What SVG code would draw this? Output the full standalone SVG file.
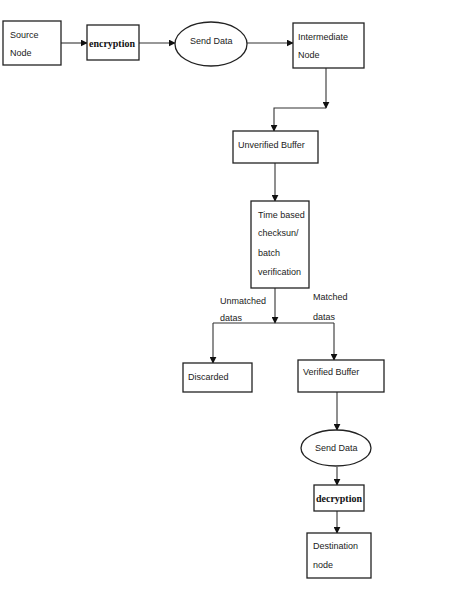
<svg xmlns="http://www.w3.org/2000/svg" width="471" height="589" viewBox="0 0 471 589">
<style>
.box{fill:#fff;stroke:#222;stroke-width:1.3}
.t{font-family:"Liberation Sans",Arial,sans-serif;font-size:9px;fill:#222}
.b{font-family:"Liberation Serif","Times New Roman",serif;font-size:10px;font-weight:bold;fill:#111}
.c{fill:none;stroke:#333;stroke-width:1.1}
</style>
<defs>
<marker id="ah" viewBox="0 0 10 10" refX="9" refY="5" markerWidth="7" markerHeight="7" orient="auto" markerUnits="userSpaceOnUse">
<path d="M0,0 L10,5 L0,10 z" fill="#111"/>
</marker>
</defs>
<rect width="471" height="589" fill="#fff"/>
<g id="connectors">
<path class="c" d="M61,43 H87" marker-end="url(#ah)"/>
<path class="c" d="M139,43 H175" marker-end="url(#ah)"/>
<path class="c" d="M247,43 H293" marker-end="url(#ah)"/>
<path class="c" d="M326,68 V108" marker-end="url(#ah)"/>
<path class="c" d="M326,108 H274 V131" marker-end="url(#ah)"/>
<path class="c" d="M275,163 V201" marker-end="url(#ah)"/>
<path class="c" d="M275,288 V323" marker-end="url(#ah)"/>
<path class="c" d="M213,323 H334"/>
<path class="c" d="M213,323 V363" marker-end="url(#ah)"/>
<path class="c" d="M334,323 V360" marker-end="url(#ah)"/>
<path class="c" d="M337,392 V430" marker-end="url(#ah)"/>
<path class="c" d="M337,467 V485" marker-end="url(#ah)"/>
<path class="c" d="M337,511 V533" marker-end="url(#ah)"/>
</g>
<g id="source">
<rect class="box" x="3" y="21" width="58" height="44"/>
<text class="t" x="10" y="38">Source</text>
<text class="t" x="10" y="56">Node</text>
</g>
<g id="encryption">
<rect class="box" x="87" y="25" width="52" height="35"/>
<text class="b" x="89" y="47" textLength="46" lengthAdjust="spacingAndGlyphs">encryption</text>
</g>
<g id="send1">
<ellipse class="box" cx="211" cy="44" rx="36" ry="22"/>
<text class="t" x="190" y="44">Send Data</text>
</g>
<g id="intermediate">
<rect class="box" x="293" y="23" width="71" height="45"/>
<text class="t" x="298" y="40">Intermediate</text>
<text class="t" x="298" y="58">Node</text>
</g>
<g id="unverified">
<rect class="box" x="233" y="131" width="85" height="32"/>
<text class="t" x="238" y="148">Unverified Buffer</text>
</g>
<g id="checksum">
<rect class="box" x="251" y="201" width="58" height="87"/>
<text class="t" x="258" y="218">Time based</text>
<text class="t" x="258" y="236">checksun/</text>
<text class="t" x="258" y="256">batch</text>
<text class="t" x="258" y="275">verification</text>
</g>
<g id="labels">
<text class="t" x="220" y="304">Unmatched</text>
<text class="t" x="220" y="321">datas</text>
<text class="t" x="313" y="300">Matched</text>
<text class="t" x="313" y="320">datas</text>
</g>
<g id="discarded">
<rect class="box" x="183" y="363" width="69" height="29"/>
<text class="t" x="188" y="380">Discarded</text>
</g>
<g id="verified">
<rect class="box" x="298" y="360" width="86" height="32"/>
<text class="t" x="303" y="375">Verified Buffer</text>
</g>
<g id="send2">
<ellipse class="box" cx="336" cy="448" rx="35" ry="18"/>
<text class="t" x="315" y="451">Send Data</text>
</g>
<g id="decryption">
<rect class="box" x="314" y="485" width="50" height="26"/>
<text class="b" x="316" y="502" textLength="46" lengthAdjust="spacingAndGlyphs">decryption</text>
</g>
<g id="destination">
<rect class="box" x="307" y="533" width="64" height="45"/>
<text class="t" x="313" y="549">Destination</text>
<text class="t" x="313" y="568">node</text>
</g>
</svg>
